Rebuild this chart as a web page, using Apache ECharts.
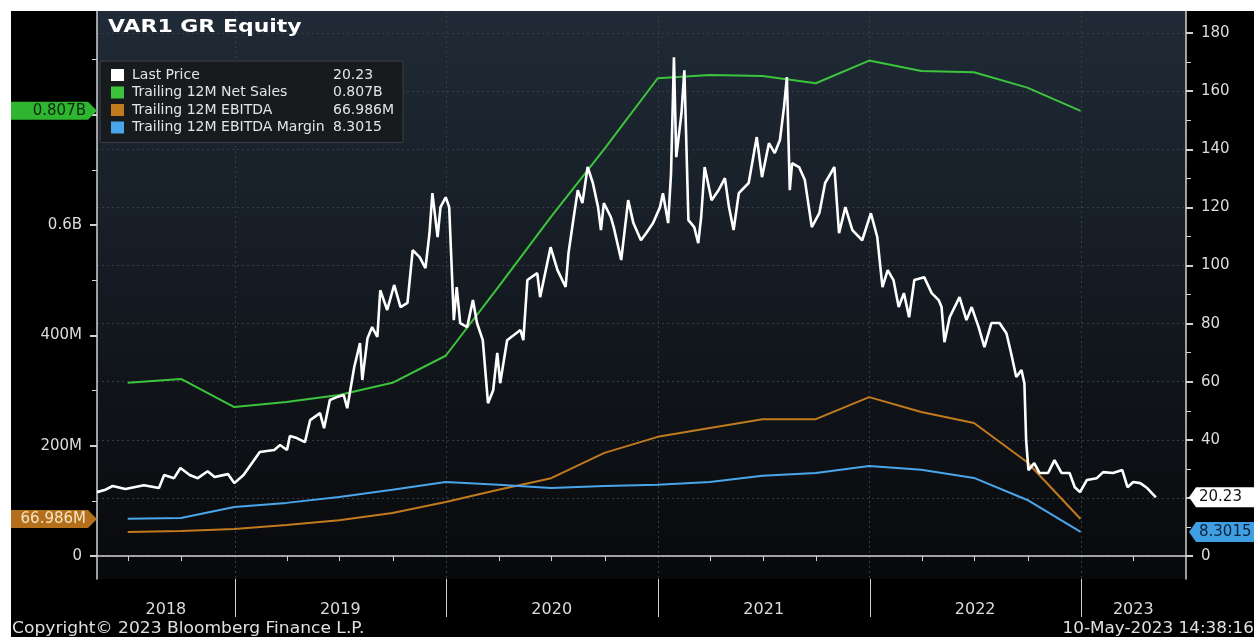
<!DOCTYPE html>
<html>
<head>
<meta charset="utf-8">
<script src="https://cdn.jsdelivr.net/npm/echarts@6/dist/echarts.min.js"></script>
<style>
html, body { margin: 0; padding: 0; background: #fff; }
#chart { position: absolute; left: 11px; top: 11px; width: 1243px; height: 626px; background: #000; }
</style>
</head>
<body>
<div id="chart"></div>
<script>
// ---- data ----
const chartTitle = 'VAR1 GR Equity';
const priceDates = [
  '2018-05-08','2018-05-21','2018-06-04','2018-06-26','2018-07-28','2018-08-23','2018-09-01','2018-09-18','2018-09-29','2018-10-15',
  '2018-10-29','2018-11-15','2018-11-27','2018-12-20','2018-12-31','2019-01-16','2019-02-03','2019-02-13','2019-03-10','2019-03-20',
  '2019-04-01','2019-04-06','2019-04-18','2019-05-02','2019-05-11','2019-05-28','2019-06-04','2019-06-14','2019-06-26','2019-07-08',
  '2019-07-14','2019-07-26','2019-08-05','2019-08-09','2019-08-18','2019-08-26','2019-09-04','2019-09-09','2019-09-21','2019-10-03',
  '2019-10-14','2019-10-26','2019-11-04','2019-11-16','2019-11-26','2019-12-03','2019-12-08','2019-12-17','2019-12-22','2019-12-31',
  '2020-01-06','2020-01-11','2020-01-14','2020-01-19','2020-01-25','2020-02-06','2020-02-16','2020-02-23','2020-03-04','2020-03-13',
  '2020-03-22','2020-03-29','2020-04-03','2020-04-15','2020-05-08','2020-05-13','2020-05-20','2020-06-06','2020-06-11','2020-06-29',
  '2020-07-11','2020-07-25','2020-07-30','2020-08-08','2020-08-15','2020-08-23','2020-09-01','2020-09-10','2020-09-19','2020-09-24',
  '2020-09-29','2020-10-11','2020-10-16','2020-10-29','2020-11-10','2020-11-19','2020-12-02','2020-12-11','2020-12-23','2021-01-04',
  '2021-01-09','2021-01-18','2021-01-23','2021-01-28','2021-02-01','2021-02-10','2021-02-15','2021-02-22','2021-03-04','2021-03-11',
  '2021-03-16','2021-03-22','2021-04-03','2021-04-15','2021-04-26','2021-05-03','2021-05-11','2021-05-20','2021-06-06','2021-06-20',
  '2021-06-29','2021-07-11','2021-07-21','2021-07-30','2021-08-06','2021-08-11','2021-08-16','2021-08-20','2021-09-01','2021-09-11',
  '2021-09-23','2021-10-06','2021-10-16','2021-11-01','2021-11-09','2021-11-20','2021-12-02','2021-12-19','2022-01-03','2022-01-14',
  '2022-01-23','2022-02-01','2022-02-11','2022-02-20','2022-03-01','2022-03-10','2022-03-19','2022-04-05','2022-04-18','2022-04-30',
  '2022-05-05','2022-05-10','2022-05-19','2022-06-05','2022-06-17','2022-06-26','2022-07-08','2022-07-18','2022-07-30','2022-08-13',
  '2022-08-25','2022-09-02','2022-09-11','2022-09-20','2022-09-25','2022-09-28','2022-10-02','2022-10-12','2022-10-21','2022-11-05',
  '2022-11-16','2022-11-28','2022-12-12','2022-12-21','2022-12-30','2023-01-11','2023-01-28','2023-02-08','2023-02-25','2023-03-13',
  '2023-03-22','2023-04-01','2023-04-13','2023-04-25','2023-05-10'
];
const priceValues = [
  22.0, 22.7, 24.1, 23.1, 24.4, 23.4, 27.9, 26.8, 30.3, 27.9,
  26.8, 29.2, 27.2, 28.2, 25.1, 27.9, 33.0, 35.8, 36.5, 38.2,
  36.5, 41.3, 40.6, 39.2, 46.8, 49.2, 44.0, 53.7, 54.7, 55.4,
  50.9, 65.0, 73.3, 60.6, 75.0, 78.8, 75.4, 91.5, 84.7, 93.3,
  85.7, 87.1, 105.3, 102.9, 99.1, 111.1, 124.9, 109.8, 120.1, 123.5,
  120.1, 96.0, 81.2, 92.6, 80.2, 78.8, 88.1, 80.2, 74.3, 52.6,
  57.1, 69.9, 59.5, 74.3, 77.8, 74.3, 95.0, 97.4, 89.1, 106.3,
  98.4, 92.6, 104.3, 116.7, 125.9, 121.5, 133.9, 128.4, 120.1, 112.2,
  121.5, 116.7, 113.2, 101.9, 122.5, 114.6, 108.7, 111.1, 114.6, 120.1,
  124.9, 114.6, 131.8, 171.7, 137.3, 152.4, 167.2, 115.6, 113.2, 107.7,
  116.7, 133.9, 122.5, 125.9, 130.1, 120.1, 112.2, 124.9, 128.4, 144.2,
  130.4, 142.1, 138.7, 143.2, 154.5, 164.8, 125.9, 135.2, 133.9, 129.4,
  113.2, 118.0, 128.4, 133.9, 111.1, 120.1, 112.2, 108.7, 118.0, 109.8,
  92.6, 98.4, 95.0, 85.7, 90.5, 82.2, 95.0, 96.0, 90.5, 88.1,
  85.7, 73.6, 82.2, 89.1, 81.2, 85.7, 78.8, 71.9, 80.2, 80.2,
  76.7, 69.9, 61.6, 64.0, 59.5, 39.9, 29.6, 32.0, 28.6, 28.6,
  33.0, 28.6, 28.6, 23.7, 22.0, 26.2, 26.8, 28.9, 28.6, 29.6,
  23.7, 25.5, 25.1, 23.4, 20.23
];

const quarterDates = [
  '2018-06-30','2018-09-30','2018-12-31','2019-03-31','2019-06-30','2019-09-30','2019-12-31',
  '2020-03-31','2020-06-30','2020-09-30','2020-12-31','2021-03-31','2021-06-30','2021-09-30',
  '2021-12-31','2022-03-31','2022-06-30','2022-09-30','2022-12-31'
];
// millions
const netSales = [314, 321, 270, 279, 292, 314, 363, 488, 615, 738, 866, 872, 870, 857, 898, 879, 877, 849, 807];
const ebitda = [43.5, 45.3, 49, 56, 65, 78, 98, 120, 141, 187, 216, 232, 248, 248, 288, 261, 241, 170, 66.986];
// percent
const ebitdaMargin = [12.8, 13.1, 16.9, 18.3, 20.3, 22.8, 25.5, 24.5, 23.4, 24.1, 24.5, 25.5, 27.6, 28.6, 31.0, 29.7, 26.9, 19.3, 8.3015];

// axis ticks / labels
const xStart = '2018-05-08';
const xEnd = '2023-07-01';
const yearStarts = ['2019-01-01', '2020-01-01', '2021-01-01', '2022-01-01', '2023-01-01'];
const quarterTicks = [
  '2018-07-01','2018-10-01','2019-04-01','2019-07-01','2019-10-01','2020-04-01','2020-07-01','2020-10-01',
  '2021-04-01','2021-07-01','2021-10-01','2022-04-01','2022-07-01','2022-10-01','2023-04-01'
];
const yearLabelDates = ['2018-09-04', '2019-07-02', '2020-07-01', '2021-07-02', '2022-07-02', '2023-04-01'];
const leftMajor = [0, 200, 400, 600, 800];
const leftMinor = [100, 300, 500, 700, 900];
const leftLabels = [0, 200, 400, 600];
const rightMajor = [0, 20, 40, 60, 80, 100, 120, 140, 160, 180];
const rightMinor = [10, 30, 50, 70, 90, 110, 130, 150, 170];

const seriesNames = ['Last Price', 'Trailing 12M Net Sales', 'Trailing 12M EBITDA', 'Trailing 12M EBITDA Margin'];
const colors = { price: '#ffffff', sales: '#3cc43c', ebitda: '#c27a1e', margin: '#4aa6ea' };

const t = s => +echarts.number.parseDate(s);
const legendValues = {
  'Last Price': String(priceValues[priceValues.length - 1]),
  'Trailing 12M Net Sales': (netSales[netSales.length - 1] / 1000).toFixed(3) + 'B',
  'Trailing 12M EBITDA': ebitda[ebitda.length - 1].toFixed(3) + 'M',
  'Trailing 12M EBITDA Margin': ebitdaMargin[ebitdaMargin.length - 1].toFixed(4)
};

const FONT = 'DejaVu Sans';
const axisColor = '#d2d2d2';
const labelColor = '#dcdcdc';
const LMIN = -41.7, LMAX = 987.9, RMIN = -7.9, RMAX = 187.6;
const GRID_BOTTOM = 58;

const chartDom = document.getElementById('chart');
const myChart = echarts.init(chartDom);

function fundamental(name, values, color, yIdx) {
  return {
    name: name, type: 'line', xAxisIndex: 0, yAxisIndex: yIdx,
    data: quarterDates.map((d, i) => [t(d), values[i]]),
    showSymbol: false, symbol: 'none', color: color,
    itemStyle: { color: color },
    lineStyle: { color: color, width: 2 }
  };
}

const option = {
  animation: false,
  backgroundColor: '#000',
  legend: {
    data: seriesNames, orient: 'vertical', left: 89, top: 50,
    selectedMode: false, icon: 'rect', itemWidth: 13, itemHeight: 12, itemGap: 3.5,
    padding: [7, 9, 8, 11],
    backgroundColor: '#181b1e', borderColor: '#3c4046', borderWidth: 1, borderRadius: 2,
    formatter: name => '{n|' + name + '}{v|' + legendValues[name] + '}',
    textStyle: {
      color: '#e4e4e4', fontFamily: FONT, fontSize: 14, lineHeight: 12,
      rich: {
        n: { width: 201, padding: [0, 0, 0, 3], color: '#e4e4e4', fontFamily: FONT, fontSize: 14, lineHeight: 12 },
        v: { color: '#e4e4e4', fontFamily: FONT, fontSize: 14, lineHeight: 12 }
      }
    }
  },
  grid: {
    left: 86, right: 68, top: 0, bottom: GRID_BOTTOM,
    show: true, borderWidth: 0, outerBoundsMode: 'none',
    backgroundColor: {
      type: 'linear', x: 0, y: 0, x2: 0, y2: 1,
      colorStops: [
        { offset: 0, color: '#202b37' },
        { offset: 0.5, color: '#141a21' },
        { offset: 1, color: '#08090b' }
      ]
    }
  },
  xAxis: [
    {
      type: 'value', min: t(xStart), max: t(xEnd), position: 'bottom',
      axisLine: { show: true, lineStyle: { color: axisColor, width: 1.5 } },
      axisTick: { show: true, customValues: quarterTicks.map(t), length: 5, lineStyle: { color: axisColor } },
      axisLabel: {
        customValues: yearLabelDates.map(t), margin: 23,
        color: labelColor, fontFamily: FONT, fontSize: 16,
        formatter: v => String(new Date(v).getFullYear())
      },
      splitLine: { show: false }
    },
    {
      type: 'value', min: t(xStart), max: t(xEnd), position: 'bottom',
      axisLine: { show: false },
      axisTick: { show: false, customValues: yearStarts.map(t) },
      axisLabel: { show: false },
      splitLine: { show: true, lineStyle: { color: '#353d46', type: [2, 3] } }
    }
  ],
  yAxis: [
    {
      type: 'value', position: 'left', min: LMIN, max: LMAX,
      axisLine: { show: true, lineStyle: { color: axisColor, width: 1.5 } },
      axisTick: { show: true, customValues: leftMajor, length: 7, lineStyle: { color: axisColor, width: 2 } },
      axisLabel: {
        customValues: leftLabels, margin: 15, color: labelColor, fontFamily: FONT, fontSize: 15,
        formatter: v => v === 0 ? '0' : (v < 600 ? v + 'M' : (v / 1000) + 'B')
      },
      splitLine: { show: false }
    },
    {
      type: 'value', position: 'left', min: LMIN, max: LMAX,
      axisLine: { show: false },
      axisTick: { show: true, customValues: leftMinor, length: 5, lineStyle: { color: axisColor, width: 1 } },
      axisLabel: { show: false },
      splitLine: { show: false }
    },
    {
      type: 'value', position: 'right', min: RMIN, max: RMAX, splitNumber: 10,
      axisLine: { show: true, lineStyle: { color: axisColor, width: 1.5 } },
      axisTick: { show: true, customValues: rightMajor, length: 7, lineStyle: { color: axisColor, width: 2 } },
      axisLabel: { customValues: rightMajor, margin: 15, color: labelColor, fontFamily: FONT, fontSize: 15 },
      splitLine: { show: true, lineStyle: { color: '#353d46', type: [2, 3] } }
    },
    {
      type: 'value', position: 'right', min: RMIN, max: RMAX,
      axisLine: { show: false },
      axisTick: { show: true, customValues: rightMinor, length: 5, lineStyle: { color: axisColor, width: 1 } },
      axisLabel: { show: false },
      splitLine: { show: false }
    }
  ],
  series: [
    fundamental(seriesNames[1], netSales, colors.sales, 0),
    fundamental(seriesNames[2], ebitda, colors.ebitda, 0),
    fundamental(seriesNames[3], ebitdaMargin, colors.margin, 2),
    {
      name: seriesNames[0], type: 'line', xAxisIndex: 0, yAxisIndex: 2,
      data: priceDates.map((d, i) => [t(d), priceValues[i]]),
      showSymbol: false, symbol: 'none', color: colors.price,
      itemStyle: { color: colors.price },
      lineStyle: { color: colors.price, width: 2.6 }
    }
  ]
};
myChart.setOption(option);

// value badges on the axes, placed through the axis scales
function badge(side, value, yIdx, text, bg, fg) {
  const y = myChart.convertToPixel({ yAxisIndex: yIdx }, value);
  const h = 9;
  if (side === 'left') {
    return [
      { type: 'polygon', z: 100, shape: { points: [[0, y - h], [77, y - h], [86, y], [77, y + h], [0, y + h]] }, style: { fill: bg } },
      { type: 'text', z: 101, x: 75, y: y, style: { text: text, fill: fg, fontFamily: FONT, fontSize: 15, align: 'right', verticalAlign: 'middle' } }
    ];
  }
  return [
    { type: 'polygon', z: 100, shape: { points: [[1178, y], [1185, y - 10], [1243, y - 10], [1243, y + 10], [1185, y + 10]] }, style: { fill: bg } },
    { type: 'text', z: 101, x: 1188, y: y, style: { text: text, fill: fg, fontFamily: FONT, fontSize: 15, align: 'left', verticalAlign: 'middle' } }
  ];
}

// long year separators below the time axis
const axisY = chartDom.clientHeight - GRID_BOTTOM;
const yearLines = yearStarts.map(d => {
  const x = Math.round(myChart.convertToPixel({ xAxisIndex: 0 }, t(d))) + 0.5;
  return { type: 'line', z: 50, shape: { x1: x, y1: axisY, x2: x, y2: axisY + 38 }, style: { stroke: axisColor, lineWidth: 1 } };
});

const graphics = [].concat(
  yearLines,
  badge('left', netSales[netSales.length - 1], 0, legendValues['Trailing 12M Net Sales'], '#2fb52f', '#0d2a0d'),
  badge('left', ebitda[ebitda.length - 1], 0, legendValues['Trailing 12M EBITDA'], '#b46f1c', '#f6e4c4'),
  badge('right', priceValues[priceValues.length - 1], 2, legendValues['Last Price'], '#ffffff', '#111111'),
  badge('right', ebitdaMargin[ebitdaMargin.length - 1], 2, legendValues['Trailing 12M EBITDA Margin'], '#3f9fe2', '#0b2238'),
  [
    { type: 'text', z: 101, x: 97, y: 16, scaleX: 1.22,
      style: { text: chartTitle, fill: '#ffffff', fontFamily: FONT, fontWeight: 'bold', fontSize: 18, align: 'left', verticalAlign: 'middle' } },
    { type: 'text', x: 1, y: 618, scaleX: 1.14,
      style: { text: 'Copyright\u00a9 2023 Bloomberg Finance L.P.', fill: '#e0e0e0', fontFamily: FONT, fontSize: 15, align: 'left', verticalAlign: 'middle' } },
    { type: 'text', x: 1243, y: 618, scaleX: 1.12,
      style: { text: '10-May-2023 14:38:16', fill: '#e0e0e0', fontFamily: FONT, fontSize: 15, align: 'right', verticalAlign: 'middle' } }
  ]
);
myChart.setOption({ graphic: graphics });
</script>
</body>
</html>
